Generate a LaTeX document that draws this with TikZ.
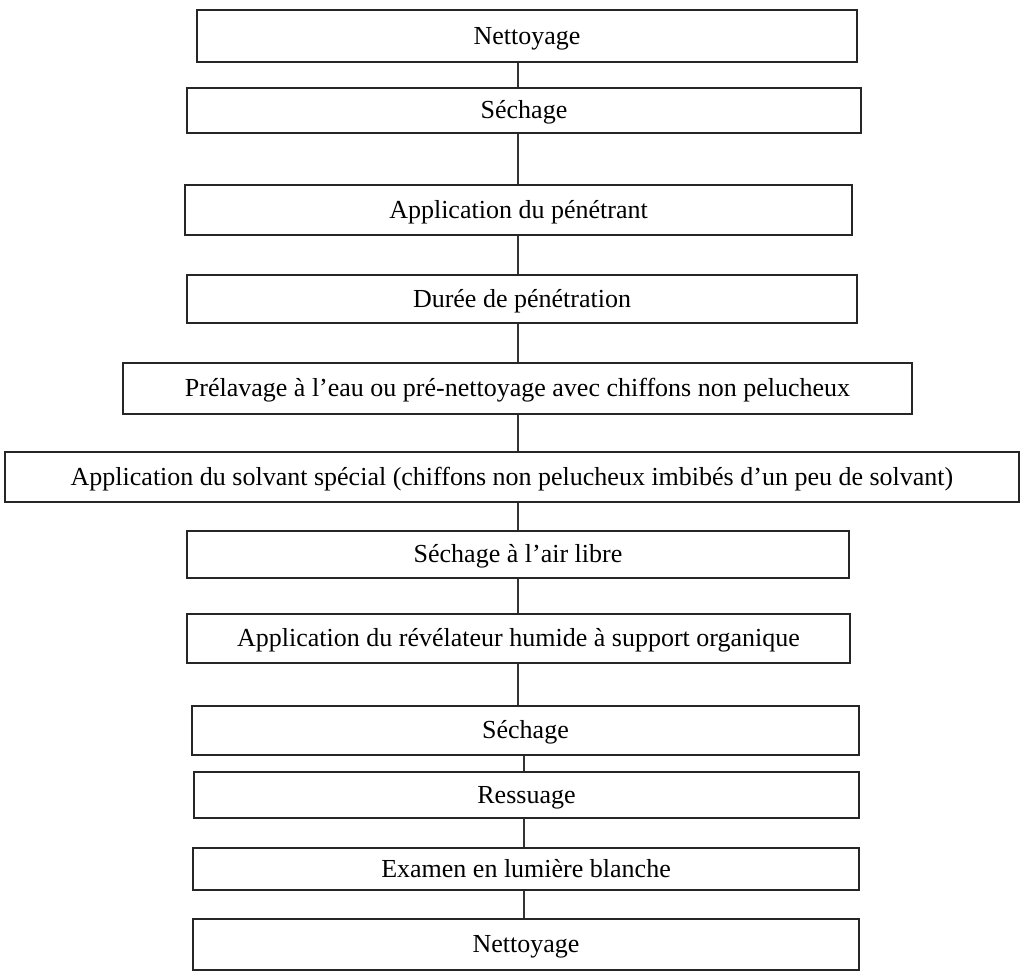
\documentclass[tikz,border=0pt]{standalone}
\usepackage{fontspec}
\setmainfont{Liberation Serif}
\begin{document}
\begin{tikzpicture}[x=0.5pt, y=-0.5pt,
  stepbox/.style={draw=black!85, line width=1.2pt, fill=white, rectangle,
    inner sep=0pt, text height=11pt, text depth=2.6pt,
    font=\fontsize{13}{15}\selectfont},
  link/.style={draw=black!80, line width=1.4pt}]
  \useasboundingbox (0,0) rectangle (1024,979);
  % process steps, top to bottom
  \node[stepbox, minimum width=330pt, minimum height=26pt]   (s1)  at (527,36)    {Nettoyage};
  \node[stepbox, minimum width=337pt, minimum height=22.5pt] (s2)  at (524,110.5) {Séchage};
  \node[stepbox, minimum width=333.5pt, minimum height=25pt] (s3)  at (518.5,210) {Application du pénétrant};
  \node[stepbox, minimum width=335pt, minimum height=24pt]   (s4)  at (522,299)   {Durée de pénétration};
  \node[stepbox, minimum width=394.5pt, minimum height=25.5pt] (s5) at (517.5,388.5) {Prélavage à l’eau ou pré-nettoyage avec chiffons non pelucheux};
  \node[stepbox, minimum width=507pt, minimum height=25pt]   (s6)  at (512,477)   {Application du solvant spécial (chiffons non pelucheux imbibés d’un peu de solvant)};
  \node[stepbox, minimum width=331pt, minimum height=23.5pt] (s7)  at (518,554.5) {Séchage à l’air libre};
  \node[stepbox, minimum width=331.5pt, minimum height=24.5pt] (s8) at (518.5,638.5) {Application du révélateur humide à support organique};
  \node[stepbox, minimum width=333.5pt, minimum height=24.5pt] (s9) at (525.5,730.5) {Séchage};
  \node[stepbox, minimum width=332.5pt, minimum height=23pt] (s10) at (526.5,795) {Ressuage};
  \node[stepbox, minimum width=333pt, minimum height=21pt]   (s11) at (526,869)   {Examen en lumière blanche};
  \node[stepbox, minimum width=333pt, minimum height=25.5pt] (s12) at (526,944.5) {Nettoyage};
  % vertical axes of the connectors
  \coordinate (ua) at (518,0);
  \coordinate (ub) at (524,0);
  \foreach \a/\b in {s1/s2, s2/s3, s3/s4, s4/s5, s5/s6, s6/s7, s7/s8, s8/s9}
    \draw[link] (\a.south -| ua) -- (\b.north -| ua);
  \foreach \a/\b in {s9/s10, s10/s11, s11/s12}
    \draw[link] (\a.south -| ub) -- (\b.north -| ub);
\end{tikzpicture}
\end{document}
